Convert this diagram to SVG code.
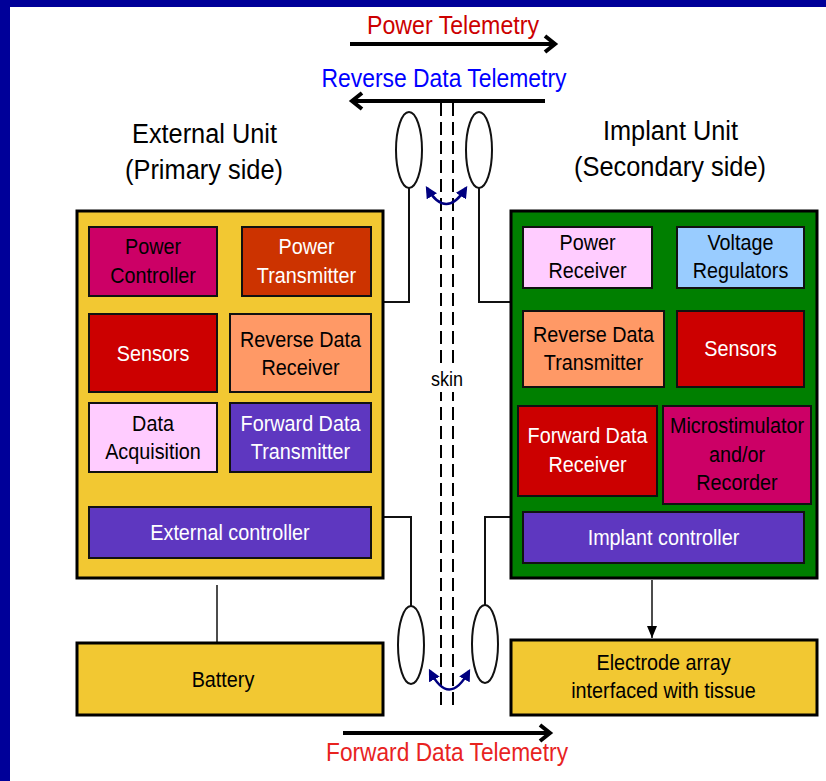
<svg xmlns="http://www.w3.org/2000/svg" width="826" height="781" viewBox="0 0 826 781">
<style>
text{font-family:"Liberation Sans",Arial,sans-serif;text-anchor:middle}
.lbl{font-size:22px}
.w{fill:#fff}
.k{fill:#000}
.outer{stroke:#000;stroke-width:3}
.inner{stroke:#111;stroke-width:2}
.wire{fill:none;stroke:#111;stroke-width:2}
.coil{fill:#fff;stroke:#111;stroke-width:2}
.tel{fill:none;stroke:#000;stroke-width:4}
.skin{fill:none;stroke:#000;stroke-width:2;stroke-dasharray:13 6}
.swap{fill:none;stroke:#000080;stroke-width:2.5}
.title{font-size:27px;fill:#000}
.teltxt{font-size:26px}
</style>
<defs>
<marker id="chev" viewBox="0 0 20 20" refX="16" refY="10" markerWidth="20" markerHeight="20" markerUnits="userSpaceOnUse" orient="auto">
<path d="M6,2 L16,10 L6,18" fill="none" stroke="#000" stroke-width="4" stroke-linejoin="miter"/>
</marker>
<marker id="navy" viewBox="0 0 10 10" refX="8" refY="5" markerWidth="12" markerHeight="12" markerUnits="userSpaceOnUse" orient="auto-start-reverse">
<path d="M0,0 L10,5 L0,10 Z" fill="#000080"/>
</marker>
<marker id="tri" viewBox="0 0 12 10" refX="12" refY="5" markerWidth="12" markerHeight="10" markerUnits="userSpaceOnUse" orient="auto">
<path d="M0,0 L12,5 L0,10 Z" fill="#000"/>
</marker>
</defs>
<rect width="826" height="781" fill="#fff"/>
<rect x="0" y="0" width="826" height="7" fill="#000099"/>
<rect x="0" y="0" width="10" height="781" fill="#000099"/>

<g id="connectors">
<line class="tel" x1="350" y1="44" x2="555" y2="44" marker-end="url(#chev)"/>
<line class="tel" x1="545" y1="101" x2="352" y2="101" marker-end="url(#chev)"/>
<line class="tel" x1="343" y1="733" x2="550" y2="733" marker-end="url(#chev)"/>
<line class="skin" x1="441" y1="103" x2="441" y2="706"/>
<line class="skin" x1="453" y1="103" x2="453" y2="706"/>
<polyline class="wire" points="384,302 409,302 409,188"/>
<polyline class="wire" points="479,188 479,302 510,302"/>
<polyline class="wire" points="384,517 411,517 411,606"/>
<polyline class="wire" points="485,605 485,517 510,517"/>
<path class="swap" d="M427,188 Q446,220 466,188" marker-start="url(#navy)" marker-end="url(#navy)"/>
<path class="swap" d="M430,671 Q449,708 469,671" marker-start="url(#navy)" marker-end="url(#navy)"/>
<line stroke="#111" stroke-width="1.5" x1="217" y1="585" x2="217" y2="642"/>
<line stroke="#111" stroke-width="1.5" x1="652" y1="580" x2="652" y2="638" marker-end="url(#tri)"/>
</g>

<g id="labels">
<text class="teltxt" x="453" y="34" fill="#cc0000" textLength="172" lengthAdjust="spacingAndGlyphs">Power Telemetry</text>
<text class="teltxt" x="444" y="87" fill="#0000ff" textLength="245" lengthAdjust="spacingAndGlyphs">Reverse Data Telemetry</text>
<text class="teltxt" x="447" y="761" fill="#e8231f" textLength="242" lengthAdjust="spacingAndGlyphs">Forward Data Telemetry</text>
<text class="title" x="204.5" y="143" textLength="145" lengthAdjust="spacingAndGlyphs">External Unit</text>
<text class="title" x="204" y="179" textLength="158" lengthAdjust="spacingAndGlyphs">(Primary side)</text>
<text class="title" x="670.5" y="140" textLength="135" lengthAdjust="spacingAndGlyphs">Implant Unit</text>
<text class="title" x="670" y="176" textLength="192" lengthAdjust="spacingAndGlyphs">(Secondary side)</text>
<rect x="428" y="368" width="38" height="24" fill="#fff"/>
<text transform="matrix(0.9 0 0 1 447 386)" font-size="20" fill="#000">skin</text>
</g>

<g id="coil-tl"><ellipse class="coil" cx="409" cy="150" rx="13" ry="38"/></g>
<g id="coil-tr"><ellipse class="coil" cx="479" cy="150" rx="13" ry="38"/></g>
<g id="coil-bl"><ellipse class="coil" cx="411" cy="645" rx="13" ry="39"/></g>
<g id="coil-br"><ellipse class="coil" cx="485" cy="644" rx="13" ry="39"/></g>

<g id="external-unit">
<rect class="outer" x="77" y="211" width="306" height="367" fill="#f2c832"/>
</g>
<g id="power-controller">
<rect class="inner" x="89" y="227" width="128" height="69" fill="#cc0066"/>
<text class="lbl k" transform="matrix(0.9 0 0 1 153 254)">Power</text>
<text class="lbl k" transform="matrix(0.9 0 0 1 153 283)">Controller</text>
</g>
<g id="power-transmitter">
<rect class="inner" x="242" y="227" width="129" height="69" fill="#cc3300"/>
<text class="lbl w" transform="matrix(0.9 0 0 1 306.5 254)">Power</text>
<text class="lbl w" transform="matrix(0.9 0 0 1 306.5 283)">Transmitter</text>
</g>
<g id="ext-sensors">
<rect class="inner" x="89" y="314" width="128" height="78" fill="#cc0000"/>
<text class="lbl w" transform="matrix(0.9 0 0 1 153 361)">Sensors</text>
</g>
<g id="reverse-data-receiver">
<rect class="inner" x="230" y="314" width="141" height="78" fill="#ff9966"/>
<text class="lbl k" transform="matrix(0.9 0 0 1 300.5 347)">Reverse Data</text>
<text class="lbl k" transform="matrix(0.9 0 0 1 300.5 375)">Receiver</text>
</g>
<g id="data-acquisition">
<rect class="inner" x="89" y="403" width="128" height="69" fill="#ffccff"/>
<text class="lbl k" transform="matrix(0.9 0 0 1 153 431)">Data</text>
<text class="lbl k" transform="matrix(0.9 0 0 1 153 459)">Acquisition</text>
</g>
<g id="forward-data-transmitter">
<rect class="inner" x="230" y="403" width="141" height="69" fill="#5e37c0"/>
<text class="lbl w" transform="matrix(0.9 0 0 1 300.5 431)">Forward Data</text>
<text class="lbl w" transform="matrix(0.9 0 0 1 300.5 459)">Transmitter</text>
</g>
<g id="external-controller">
<rect class="inner" x="89" y="507" width="282" height="51" fill="#5e37c0"/>
<text class="lbl w" transform="matrix(0.9 0 0 1 230 540)">External controller</text>
</g>
<g id="battery">
<rect class="outer" x="77" y="643" width="306" height="72" fill="#f2c832"/>
<text class="lbl k" transform="matrix(0.9 0 0 1 223 687)">Battery</text>
</g>

<g id="implant-unit">
<rect class="outer" x="511" y="211" width="306" height="367" fill="#007f00"/>
</g>
<g id="power-receiver">
<rect class="inner" x="523" y="227" width="129" height="61" fill="#ffccff"/>
<text class="lbl k" transform="matrix(0.9 0 0 1 587.5 250)">Power</text>
<text class="lbl k" transform="matrix(0.9 0 0 1 587.5 278)">Receiver</text>
</g>
<g id="voltage-regulators">
<rect class="inner" x="677" y="227" width="127" height="61" fill="#99ccff"/>
<text class="lbl k" transform="matrix(0.9 0 0 1 740.5 250)">Voltage</text>
<text class="lbl k" transform="matrix(0.9 0 0 1 740.5 278)">Regulators</text>
</g>
<g id="reverse-data-transmitter">
<rect class="inner" x="523" y="311" width="141" height="76" fill="#ff9966"/>
<text class="lbl k" transform="matrix(0.9 0 0 1 593.5 342)">Reverse Data</text>
<text class="lbl k" transform="matrix(0.9 0 0 1 593.5 370)">Transmitter</text>
</g>
<g id="imp-sensors">
<rect class="inner" x="677" y="311" width="127" height="76" fill="#cc0000"/>
<text class="lbl w" transform="matrix(0.9 0 0 1 740.5 356)">Sensors</text>
</g>
<g id="forward-data-receiver">
<rect class="inner" x="518" y="406" width="139" height="90" fill="#cc0000"/>
<text class="lbl w" transform="matrix(0.9 0 0 1 587.5 443)">Forward Data</text>
<text class="lbl w" transform="matrix(0.9 0 0 1 587.5 472)">Receiver</text>
</g>
<g id="microstimulator">
<rect class="inner" x="663" y="406" width="148" height="98" fill="#cc0066"/>
<text class="lbl k" transform="matrix(0.9 0 0 1 737 433)">Microstimulator</text>
<text class="lbl k" transform="matrix(0.9 0 0 1 737 462)">and/or</text>
<text class="lbl k" transform="matrix(0.9 0 0 1 737 490)">Recorder</text>
</g>
<g id="implant-controller">
<rect class="inner" x="523" y="512" width="281" height="51" fill="#5e37c0"/>
<text class="lbl w" transform="matrix(0.9 0 0 1 663.5 545)">Implant controller</text>
</g>
<g id="electrode-array">
<rect class="outer" x="511" y="640" width="306" height="75" fill="#f2c832"/>
<text class="lbl k" transform="matrix(0.9 0 0 1 663.5 670)">Electrode array</text>
<text class="lbl k" transform="matrix(0.9 0 0 1 663.5 698)">interfaced with tissue</text>
</g>
</svg>
